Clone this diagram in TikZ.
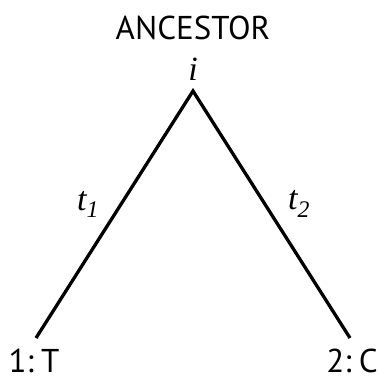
\documentclass[tikz,border=0pt]{standalone}
\usepackage{fontspec}
\setmainfont{PT Sans}
\newfontfamily\brserif{Liberation Serif}
\usetikzlibrary{positioning}
\begin{document}
\begin{tikzpicture}[x=1pt,y=-1pt,
  lbl/.style={inner sep=0pt,font=\fontsize{33}{38}\selectfont},
  brlbl/.style={inner sep=0pt,font=\brserif\itshape\fontsize{34}{38}\selectfont},
  branch/.style={line width=3.3pt}]
\useasboundingbox (0,0) rectangle (379,380);

\node[lbl] (anc) at (193,28) {ANCESTOR};
\node[brlbl] (ilab) at (193,69) {i};

\coordinate (root) at (193,91);
\coordinate (leaf1) at (36,338);
\coordinate (leaf2) at (350,338);
\draw[branch] (leaf1) -- (root) -- (leaf2);

\node[brlbl] (t1) at (88,204) {t\textsubscript{1}};
\node[brlbl] (t2) at (299,204) {t\textsubscript{2}};

\node[lbl,anchor=base,text depth=0pt] (tip1) at (34,372) {1:\kern0.22em T};
\node[lbl,anchor=base,text depth=0pt] (tip2) at (352,372) {2:\kern0.22em C};
\end{tikzpicture}
\end{document}
